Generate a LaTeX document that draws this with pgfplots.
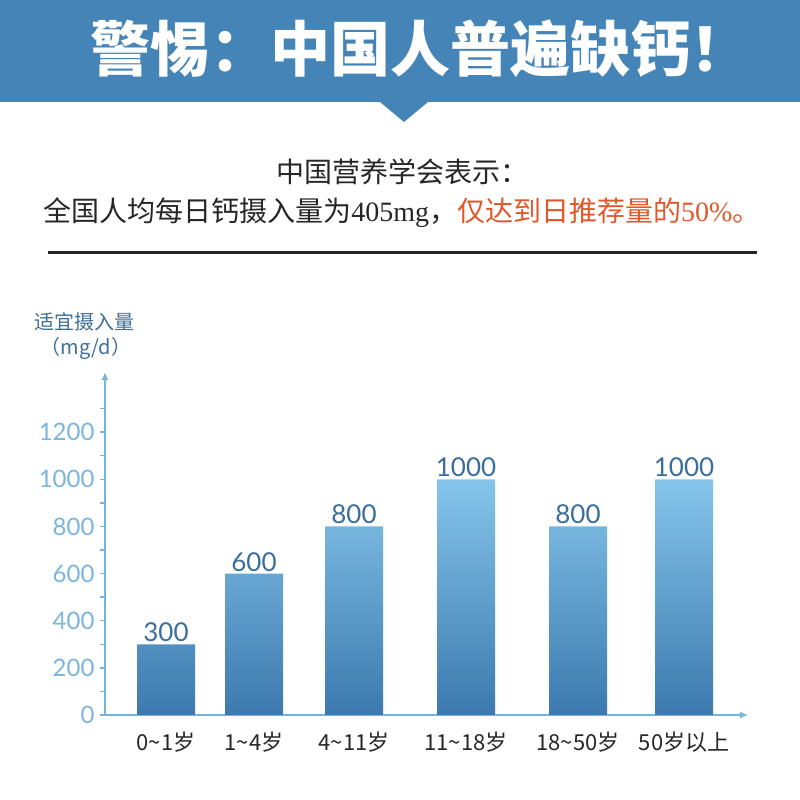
\documentclass[border=0pt]{standalone}
\usepackage{pgfplots}
\pgfplotsset{compat=1.18}
\usepackage{fontspec}
\usetikzlibrary{arrows.meta}
\newfontfamily\cjk{Noto Sans CJK SC}
\newfontfamily\lato{Lato}
\newfontfamily\tnr{Liberation Serif}
\definecolor{band}{HTML}{4584B7}
\definecolor{axcol}{HTML}{74B5E0}
\definecolor{tickcol}{HTML}{7AB5DD}
\definecolor{valcol}{HTML}{3A6E9D}
\definecolor{ylabcol}{HTML}{3F6F99}
\definecolor{orange}{HTML}{E2572A}
\definecolor{bartop}{HTML}{86C5EB}
\definecolor{barmid}{HTML}{72B4E0}
\definecolor{barbot}{HTML}{3C79AE}
\begin{document}
\begin{tikzpicture}[x=1pt,y=1pt]
\useasboundingbox (0,0) rectangle (800,800);
% header band
\fill[band] (0,800) -- (800,800) -- (800,698) -- (428,698) -- (404,678) -- (380,698) -- (0,698) -- cycle;
\node[text=white, font=\cjk\bfseries\fontsize{60}{64}\selectfont] at (420,751) {警惕：中国人普遍缺钙！};
% subtitle
\node[text=black!85, font=\cjk\fontsize{28}{30}\selectfont] at (402,628) {中国营养学会表示：};
\node[text=black!85, font=\cjk\fontsize{28}{30}\selectfont] at (402,587) {全国人均每日钙摄入量为{\tnr 405mg}，\textcolor{orange}{仅达到日推荐量的{\tnr 50\%}。}};
\draw[line width=3pt, black!85] (48,547) -- (757,547);
% y label
\node[text=ylabcol, font=\cjk\fontsize{20}{22}\selectfont] at (84,478) {适宜摄入量};
\node[text=ylabcol, font=\cjk\fontsize{20}{22}\selectfont] at (86,452) {（mg/d）};
\begin{axis}[
  at={(105pt,85pt)}, anchor=south west,
  scale only axis, width=643pt, height=343pt,
  xmin=0, xmax=643, ymin=0, ymax=1455,
  axis lines=left,
  axis line style={-{Latex[length=8pt,width=7pt]}, line width=2.5pt, color=axcol},
  clip=false,
  /pgf/number format/assume math mode=true,
  /pgf/number format/1000 sep={},
  ytick={0,200,...,1200},
  minor ytick={100,300,...,1300},
  tick align=outside,
  major tick length=5pt, minor tick length=5pt,
  y tick style={line width=1.5pt, color=axcol},
  x tick style={draw=none},
  yticklabel style={font=\lato\fontsize{24}{24}\selectfont, text=tickcol, xshift=-2pt},
  xtick=data,
  xticklabels={0\textasciitilde1岁,1\textasciitilde4岁,4\textasciitilde11岁,11\textasciitilde18岁,18\textasciitilde50岁,50岁以上},
  xticklabel style={font=\cjk\fontsize{22}{24}\selectfont, text=black!85, yshift=-8pt},
  nodes near coords,
  nodes near coords style={font=\lato\fontsize{26}{26}\selectfont, text=valcol, anchor=south, inner sep=2pt},
]
\addplot[ybar, bar width=58pt, draw=none, top color=bartop, middle color=barmid, bottom color=barbot]
  coordinates {(61,300) (149,600) (249,800) (361,1000) (473,800) (579,1000)};
\end{axis}
\end{tikzpicture}
\end{document}
